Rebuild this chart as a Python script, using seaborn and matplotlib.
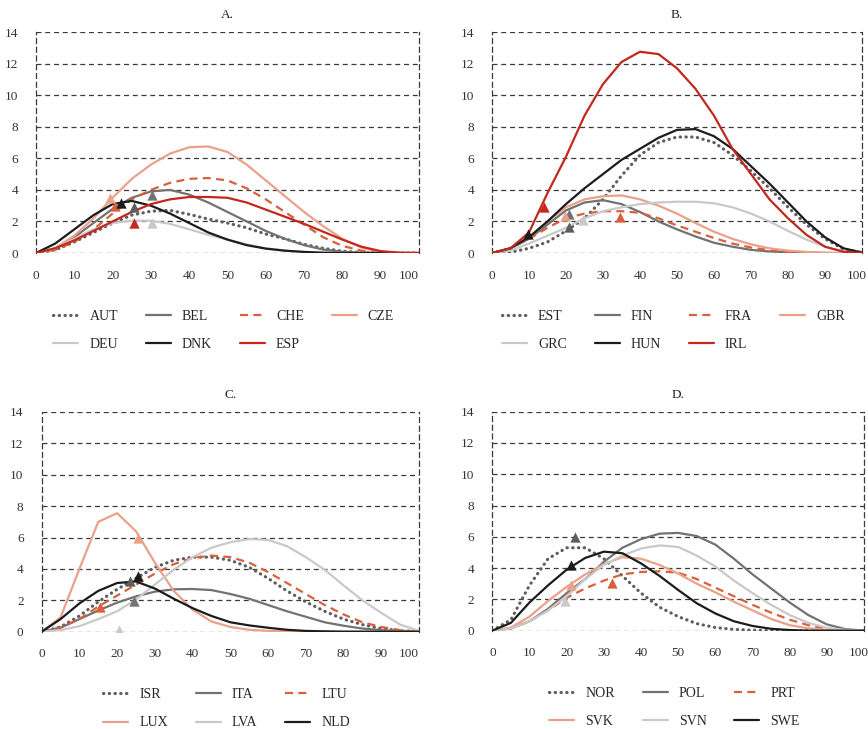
import matplotlib
matplotlib.use("Agg")
import matplotlib.pyplot as plt
import matplotlib.transforms as mtransforms
import seaborn as sns
import pandas as pd

# ---------------- data ----------------
X = [0, 5, 10, 15, 20, 25, 30, 35, 40, 45, 50, 55, 60, 65, 70, 75, 80, 85, 90, 95, 100]
x_ticks = [0, 10, 20, 30, 40, 50, 60, 70, 80, 90, 100]
y_ticks = [0, 2, 4, 6, 8, 10, 12, 14]

# Panel A
AUT = [0, 0.2, 0.7, 1.3, 1.9, 2.4, 2.65, 2.7, 2.45, 2.15, 1.9, 1.6, 1.2, 0.9, 0.55, 0.3, 0.12, 0.04, 0, 0, 0]
BEL = [0, 0.3, 1.0, 1.9, 2.8, 3.5, 3.9, 4.0, 3.7, 3.2, 2.6, 2.0, 1.4, 0.9, 0.5, 0.22, 0.08, 0.02, 0, 0, 0]
CHE = [0, 0.2, 0.7, 1.5, 2.5, 3.4, 4.0, 4.45, 4.7, 4.75, 4.6, 4.1, 3.4, 2.6, 1.8, 1.0, 0.45, 0.15, 0.03, 0, 0]
CZE = [0, 0.3, 1.1, 2.2, 3.5, 4.7, 5.6, 6.3, 6.7, 6.75, 6.4, 5.6, 4.6, 3.6, 2.6, 1.7, 0.9, 0.35, 0.08, 0, 0]
DEU = [0, 0.3, 0.9, 1.5, 1.9, 2.05, 2.05, 1.85, 1.5, 1.15, 0.85, 0.55, 0.3, 0.15, 0.06, 0.02, 0, 0, 0, 0, 0]
DNK = [0, 0.6, 1.5, 2.4, 3.1, 3.3, 3.0, 2.5, 1.9, 1.3, 0.85, 0.5, 0.28, 0.15, 0.07, 0.02, 0, 0, 0, 0, 0]
ESP = [0, 0.3, 0.8, 1.4, 2.0, 2.6, 3.1, 3.4, 3.55, 3.55, 3.5, 3.2, 2.75, 2.3, 1.85, 1.35, 0.85, 0.4, 0.12, 0.02, 0]
tri_A_x = [25.5, 30.4, 20.7, 19.4, 30.4, 22.1, 25.6]
tri_A_y = [2.9, 3.67, 2.97, 3.5, 1.91, 3.14, 1.91]

# Panel B
EST = [0, 0.05, 0.3, 0.7, 1.4, 2.2, 3.4, 4.9, 6.2, 7.0, 7.35, 7.35, 7.0, 6.2, 5.2, 4.1, 2.9, 1.8, 0.9, 0.25, 0.02]
FIN = [0, 0.3, 0.9, 1.8, 2.7, 3.2, 3.35, 3.1, 2.6, 2.0, 1.5, 1.05, 0.65, 0.4, 0.2, 0.1, 0.05, 0.02, 0, 0, 0]
FRA = [0, 0.3, 0.9, 1.6, 2.2, 2.5, 2.65, 2.65, 2.55, 2.2, 1.75, 1.35, 0.95, 0.6, 0.35, 0.18, 0.08, 0.03, 0, 0, 0]
GBR = [0, 0.3, 1.0, 2.0, 2.9, 3.4, 3.6, 3.65, 3.4, 3.0, 2.5, 1.9, 1.35, 0.9, 0.55, 0.3, 0.15, 0.07, 0.02, 0, 0]
GRC = [0, 0.15, 0.6, 1.1, 1.6, 2.2, 2.65, 2.9, 3.1, 3.2, 3.25, 3.25, 3.15, 2.9, 2.5, 2.0, 1.4, 0.85, 0.4, 0.1, 0.01]
HUN = [0, 0.3, 1.0, 2.0, 3.1, 4.1, 5.0, 5.9, 6.6, 7.3, 7.8, 7.85, 7.4, 6.6, 5.5, 4.4, 3.2, 2.0, 1.0, 0.3, 0.03]
IRL = [0, 0.3, 1.3, 3.8, 6.1, 8.7, 10.7, 12.1, 12.75, 12.6, 11.7, 10.4, 8.7, 6.6, 5.0, 3.4, 2.2, 1.15, 0.4, 0.08, 0.01]
tri_B_x = [20.7, 20.7, 34.7, 19.8, 24.5, 9.7, 14.0]
tri_B_y = [1.65, 2.5, 2.3, 2.33, 2.1, 1.23, 2.93]

# Panel C
ISR = [0, 0.3, 1.0, 1.9, 2.7, 3.4, 4.1, 4.55, 4.75, 4.75, 4.55, 4.1, 3.4, 2.6, 1.9, 1.3, 0.8, 0.45, 0.2, 0.06, 0]
ITA = [0, 0.25, 0.8, 1.35, 1.85, 2.25, 2.55, 2.7, 2.72, 2.65, 2.4, 2.1, 1.7, 1.3, 0.95, 0.6, 0.38, 0.2, 0.1, 0.03, 0]
LTU = [0, 0.25, 0.8, 1.6, 2.3, 3.0, 3.7, 4.3, 4.7, 4.85, 4.75, 4.4, 3.8, 3.1, 2.4, 1.7, 1.1, 0.6, 0.3, 0.1, 0]
LUX = [0, 0.9, 4.0, 7.0, 7.55, 6.4, 4.4, 2.6, 1.4, 0.65, 0.3, 0.12, 0.05, 0.02, 0, 0, 0, 0, 0, 0, 0]
LVA = [0, 0.1, 0.35, 0.8, 1.3, 2.05, 3.0, 3.95, 4.75, 5.35, 5.7, 5.9, 5.85, 5.45, 4.75, 3.95, 2.95, 2.0, 1.2, 0.45, 0.05]
NLD = [0, 0.8, 1.8, 2.6, 3.1, 3.2, 2.75, 2.1, 1.5, 1.0, 0.6, 0.4, 0.25, 0.12, 0.05, 0.02, 0, 0, 0, 0, 0]
tri_C_x = [23.4, 24.5, 15.4, 25.4, 20.5, 25.4]
tri_C_y = [3.25, 1.98, 1.55, 6.0, 0.1, 3.57]

# Panel D
NOR = [0, 0.7, 2.9, 4.6, 5.3, 5.3, 4.6, 3.5, 2.4, 1.5, 0.9, 0.45, 0.2, 0.08, 0.03, 0, 0, 0, 0, 0, 0]
POL = [0, 0.15, 0.6, 1.4, 2.4, 3.3, 4.4, 5.3, 5.85, 6.2, 6.25, 6.05, 5.5, 4.6, 3.6, 2.7, 1.8, 1.0, 0.4, 0.1, 0]
PRT = [0, 0.15, 0.6, 1.3, 2.1, 2.7, 3.2, 3.6, 3.75, 3.8, 3.7, 3.3, 2.75, 2.2, 1.65, 1.15, 0.7, 0.35, 0.12, 0.03, 0]
SVK = [0, 0.2, 0.9, 1.9, 2.8, 3.6, 4.25, 4.7, 4.6, 4.2, 3.65, 3.0, 2.45, 1.85, 1.3, 0.75, 0.35, 0.15, 0.05, 0, 0]
SVN = [0, 0.15, 0.6, 1.3, 2.2, 3.3, 4.2, 4.8, 5.25, 5.45, 5.35, 4.8, 4.1, 3.2, 2.4, 1.65, 1.0, 0.5, 0.18, 0.05, 0]
SWE = [0, 0.5, 1.8, 2.9, 3.9, 4.65, 5.05, 4.95, 4.3, 3.5, 2.6, 1.75, 1.1, 0.6, 0.3, 0.12, 0.04, 0, 0, 0, 0]
tri_D_x = [22.2, None, 32.3, 21.1, 19.5, 21.1]
tri_D_y = [6.0, None, 3.03, 2.92, 1.92, 4.2]

panels = [
    ("A.", ["AUT", "BEL", "CHE", "CZE", "DEU", "DNK", "ESP"],
     [AUT, BEL, CHE, CZE, DEU, DNK, ESP], tri_A_x, tri_A_y, 4),
    ("B.", ["EST", "FIN", "FRA", "GBR", "GRC", "HUN", "IRL"],
     [EST, FIN, FRA, GBR, GRC, HUN, IRL], tri_B_x, tri_B_y, 4),
    ("C.", ["ISR", "ITA", "LTU", "LUX", "LVA", "NLD"],
     [ISR, ITA, LTU, LUX, LVA, NLD], tri_C_x, tri_C_y, 3),
    ("D.", ["NOR", "POL", "PRT", "SVK", "SVN", "SWE"],
     [NOR, POL, PRT, SVK, SVN, SWE], tri_D_x, tri_D_y, 3),
]

styles = [
    dict(color="#5e5e5e", lw=2.3, ls=(0, (0.1, 1.7)), cap="round"),   # dotted
    dict(color="#727272", lw=1.6, ls="-", cap="butt"),
    dict(color="#d8603c", lw=1.6, ls=(0, (3.6, 2.4)), cap="butt"),    # dashed
    dict(color="#eba189", lw=1.6, ls="-", cap="butt"),
    dict(color="#c9c9c9", lw=1.6, ls="-", cap="butt"),
    dict(color="#1c1c1c", lw=1.6, ls="-", cap="butt"),
    dict(color="#c2281c", lw=1.6, ls="-", cap="butt"),
]

sns.set_style("white")
plt.rcParams["font.family"] = ["Liberation Serif", "DejaVu Serif"]

fig = plt.figure(figsize=(8.68, 7.29), dpi=100)
positions = [
    [0.0415, 0.6529, 0.4412, 0.3032],
    [0.5668, 0.6529, 0.4263, 0.3032],
    [0.0480, 0.1335, 0.4347, 0.3014],
    [0.5672, 0.1349, 0.4282, 0.3004],
]

grid_col = "#3a3a3a"
for pi, (title, names, series, tx, ty, ncol) in enumerate(panels):
    ax = fig.add_axes(positions[pi])
    for i, (name, vals) in enumerate(zip(names, series)):
        s = styles[i]
        df = pd.DataFrame({"x": X, "y": vals})
        sns.lineplot(data=df, x="x", y="y", ax=ax, color=s["color"], linewidth=s["lw"],
                     linestyle=s["ls"], dash_capstyle=s["cap"], label=name,
                     legend=False, zorder=3)
    for i in range(len(names)):
        if tx[i] is None:
            continue
        sns.scatterplot(x=[tx[i]], y=[ty[i]], ax=ax, marker="^", color=styles[i]["color"],
                        s=55, linewidth=0, legend=False, zorder=5)
    ax.set_xlim(0, 100)
    ax.set_ylim(0, 14)
    ax.set_xticks(x_ticks)
    ax.set_yticks(y_ticks)
    ax.set_xticklabels([str(v) for v in x_ticks])
    ax.set_yticklabels([str(v) for v in y_ticks])
    ax.set_xlabel("")
    ax.set_ylabel("")
    ax.tick_params(axis="both", length=0, labelsize=9.5, colors="#333333")
    ax.tick_params(axis="y", pad=13)
    ax.tick_params(axis="x", pad=12)
    last = ax.get_xticklabels()[-1]
    last.set_horizontalalignment("right")
    if pi in (1, 3):
        last.set_transform(last.get_transform() +
                           mtransforms.ScaledTranslation(5 / 100, 0, fig.dpi_scale_trans))
    ax.grid(axis="y", color=grid_col, linestyle=(0, (4, 3)), linewidth=0.9)
    ax.grid(axis="x", visible=False)
    for side in ("top", "bottom"):
        ax.spines[side].set_visible(False)
    for side in ("left", "right"):
        ax.spines[side].set_visible(True)
        ax.spines[side].set_color(grid_col)
        ax.spines[side].set_linestyle((0, (4, 3)))
        ax.spines[side].set_linewidth(0.9)
    ax.set_title(title, fontsize=9.5, pad=10, color="#222222")
    handles, labels = ax.get_legend_handles_labels()
    # fill legend row by row
    nrows = 2
    order = []
    for c in range(ncol):
        for r in range(nrows):
            k = r * ncol + c
            if k < len(handles):
                order.append(k)
    ax.legend([handles[k] for k in order], [labels[k] for k in order], ncol=ncol,
              loc="upper center", bbox_to_anchor=(0.49, -0.2),
              frameon=False, fontsize=10, handlelength=1.8, handletextpad=0.8,
              columnspacing=2.0, labelspacing=1.1)

fig.savefig("out.png", dpi=100)
